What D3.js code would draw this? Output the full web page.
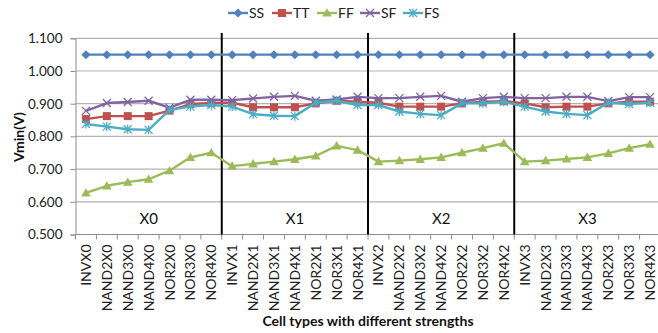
<!DOCTYPE html>
<html>
<head>
<meta charset="utf-8">
<script src="https://cdn.jsdelivr.net/npm/d3@7"></script>
<style>
  html, body { margin: 0; padding: 0; background: #fff; }
  svg { display: block; font-family: Lato, "Open Sans", "Liberation Sans", sans-serif; }
</style>
</head>
<body>
<svg id="chart" width="658" height="333"></svg>
<script>
// Cell names, in order along the x axis (7 cells per drive strength)
const cells = [
  "INVX0","NAND2X0","NAND3X0","NAND4X0","NOR2X0","NOR3X0","NOR4X0",
  "INVX1","NAND2X1","NAND3X1","NAND4X1","NOR2X1","NOR3X1","NOR4X1",
  "INVX2","NAND2X2","NAND3X2","NAND4X2","NOR2X2","NOR3X2","NOR4X2",
  "INVX3","NAND2X3","NAND3X3","NAND4X3","NOR2X3","NOR3X3","NOR4X3"
];
const strengthGroups = ["X0","X1","X2","X3"];
const yTicks = [0.5, 0.6, 0.7, 0.8, 0.9, 1.0, 1.1];

// Vmin (V) per process corner
const ssValues = [
  1.05,1.05,1.05,1.05,1.05,1.05,1.05,
  1.05,1.05,1.05,1.05,1.05,1.05,1.05,
  1.05,1.05,1.05,1.05,1.05,1.05,1.05,
  1.05,1.05,1.05,1.05,1.05,1.05,1.05
];
const ttValues = [
  0.853,0.862,0.862,0.862,0.879,0.899,0.902,
  0.903,0.889,0.889,0.889,0.901,0.909,0.906,
  0.903,0.891,0.891,0.891,0.901,0.906,0.908,
  0.901,0.889,0.891,0.891,0.901,0.906,0.906
];
const ffValues = [
  0.627,0.649,0.660,0.669,0.695,0.736,0.750,
  0.709,0.716,0.723,0.730,0.740,0.771,0.758,
  0.723,0.726,0.730,0.736,0.750,0.764,0.779,
  0.723,0.726,0.731,0.736,0.748,0.764,0.776
];
const sfValues = [
  0.878,0.902,0.905,0.909,0.888,0.912,0.912,
  0.911,0.916,0.921,0.924,0.909,0.913,0.921,
  0.917,0.917,0.921,0.924,0.906,0.917,0.921,
  0.917,0.917,0.921,0.921,0.908,0.920,0.920
];
const fsValues = [
  0.838,0.830,0.822,0.820,0.881,0.891,0.896,
  0.891,0.868,0.863,0.862,0.903,0.909,0.896,
  0.896,0.876,0.869,0.865,0.901,0.901,0.906,
  0.891,0.876,0.869,0.865,0.903,0.899,0.903
];

const series = [
  { name: "SS", values: ssValues, color: "#4F81BD", marker: "diamond" },
  { name: "TT", values: ttValues, color: "#C0504D", marker: "square" },
  { name: "FF", values: ffValues, color: "#9BBB59", marker: "triangle" },
  { name: "SF", values: sfValues, color: "#8064A2", marker: "cross" },
  { name: "FS", values: fsValues, color: "#4BACC6", marker: "star" }
];

const svg = d3.select("#chart");
const plotLeft = 75.5, plotRight = 660.5, plotTop = 33;

const x = d3.scaleBand().domain(cells).range([plotLeft, plotRight]).paddingInner(0).paddingOuter(0);
const y = d3.scaleLinear().domain([0.5, 1.1]).range([234.5, 38.3]);
const cx = d => x(d) + x.bandwidth() / 2;

// horizontal gridlines
svg.append("g").selectAll("line")
  .data(yTicks.filter(t => t > 0.5))
  .join("line")
  .attr("x1", plotLeft).attr("x2", plotRight)
  .attr("y1", d => y(d)).attr("y2", d => y(d))
  .attr("stroke", "#b3b3b3").attr("stroke-width", 1.2);

// y axis
const yAxis = svg.append("g")
  .attr("transform", `translate(${plotLeft},0)`)
  .call(d3.axisLeft(y).tickValues(yTicks).tickFormat(d3.format(".3f")).tickSize(5).tickPadding(8));
yAxis.select(".domain").attr("stroke", "#8c8c8c");
yAxis.selectAll(".tick line").attr("stroke", "#8c8c8c");
yAxis.selectAll(".tick text").attr("font-size", 13.5).attr("fill", "#222")
  .attr("font-family", "Lato, 'Open Sans', sans-serif");

// x axis with tick marks at category boundaries
const xAxis = svg.append("g").attr("transform", `translate(0,${y(0.5)})`);
xAxis.append("line").attr("x1", plotLeft).attr("x2", plotRight)
  .attr("stroke", "#8c8c8c").attr("stroke-width", 1.2);
xAxis.selectAll("line.bt")
  .data(d3.range(cells.length + 1))
  .join("line").attr("class", "bt")
  .attr("x1", i => plotLeft + i * x.bandwidth()).attr("x2", i => plotLeft + i * x.bandwidth())
  .attr("y1", 0).attr("y2", 5)
  .attr("stroke", "#8c8c8c");
xAxis.selectAll("text")
  .data(cells)
  .join("text")
  .attr("transform", d => `translate(${cx(d) + 5},10) rotate(-90)`)
  .attr("text-anchor", "end")
  .attr("font-size", 14)
  .attr("fill", "#222")
  .text(d => d);

// group separators and labels
const groupSize = 7;
svg.append("g").selectAll("line")
  .data([1, 2, 3])
  .join("line")
  .attr("x1", g => x(cells[g * groupSize])).attr("x2", g => x(cells[g * groupSize]))
  .attr("y1", plotTop).attr("y2", y(0.5))
  .attr("stroke", "#000").attr("stroke-width", 2);
svg.append("g").selectAll("text")
  .data(strengthGroups)
  .join("text")
  .attr("x", (g, i) => (x(cells[i * groupSize]) + x(cells[i * groupSize + groupSize - 1]) + x.bandwidth()) / 2)
  .attr("y", 224)
  .attr("text-anchor", "middle")
  .attr("font-size", 15)
  .attr("fill", "#111")
  .text(d => d);

// marker drawing
function drawMarker(sel, type, color) {
  if (type === "diamond") {
    sel.append("path").attr("d", "M0,-4.5L4.5,0L0,4.5L-4.5,0Z").attr("fill", color);
  } else if (type === "square") {
    sel.append("rect").attr("x", -4).attr("y", -4).attr("width", 8).attr("height", 8).attr("fill", color);
  } else if (type === "triangle") {
    sel.append("path").attr("d", "M0,-4.8L4.8,3.6L-4.8,3.6Z").attr("fill", color);
  } else if (type === "cross") {
    sel.append("path").attr("d", "M-4,-4L4,4M-4,4L4,-4").attr("stroke", color).attr("stroke-width", 1.3).attr("fill", "none");
  } else if (type === "star") {
    sel.append("path").attr("d", "M-4,-4L4,4M-4,4L4,-4M0,-4.5L0,4.5").attr("stroke", color).attr("stroke-width", 1.3).attr("fill", "none");
  }
}

const line = d3.line().x((d, i) => cx(cells[i])).y(d => y(d));

series.forEach(s => {
  const g = svg.append("g");
  g.append("path").datum(s.values)
    .attr("d", line)
    .attr("fill", "none")
    .attr("stroke", s.color)
    .attr("stroke-width", 2.4)
    .attr("stroke-linejoin", "round");
  g.selectAll("g.m")
    .data(s.values)
    .join("g").attr("class", "m")
    .attr("transform", (d, i) => `translate(${cx(cells[i])},${y(d)})`)
    .each(function () { drawMarker(d3.select(this), s.marker, s.color); });
});

// legend
const legendX = [228, 272, 317, 360, 403];
const legend = svg.append("g");
series.forEach((s, i) => {
  const lg = legend.append("g").attr("transform", `translate(${legendX[i]},13)`);
  lg.append("line").attr("x1", 0).attr("x2", 20).attr("stroke", s.color).attr("stroke-width", 2.4);
  drawMarker(lg.append("g").attr("transform", "translate(10,0)"), s.marker, s.color);
  lg.append("text").attr("x", 21).attr("y", 5).attr("font-size", 14).attr("fill", "#222").text(s.name);
});

// axis titles
svg.append("text")
  .attr("transform", "translate(24,137) rotate(-90)")
  .attr("text-anchor", "middle")
  .attr("font-size", 14).attr("font-weight", "bold").attr("fill", "#111")
  .text("Vmin(V)");
svg.append("text")
  .attr("x", 368).attr("y", 326)
  .attr("text-anchor", "middle")
  .attr("font-size", 14).attr("font-weight", "bold").attr("fill", "#111")
  .text("Cell types with different strengths");
</script>
</body>
</html>
